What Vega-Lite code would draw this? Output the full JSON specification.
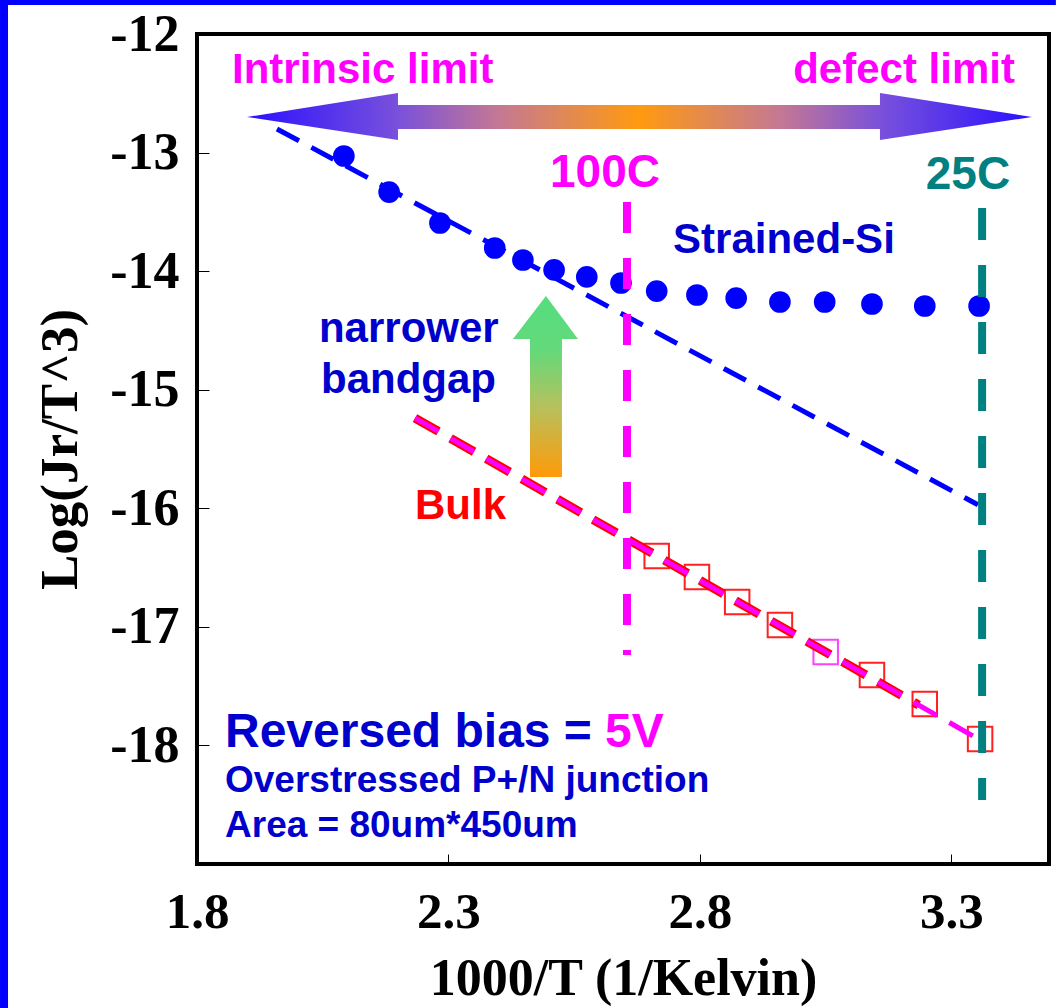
{
  "$schema": "https://vega.github.io/schema/vega-lite/v6.json",
  "width": 852,
  "height": 830,
  "autosize": {"type": "none"},
  "padding": {"left": 197, "top": 34, "right": 7, "bottom": 144},
  "background": "white",
  "config": {
    "view": {"stroke": "black", "strokeWidth": 4},
    "axis": {"domain": false, "grid": false, "tickColor": "black", "tickWidth": 1, "labelColor": "black", "titleColor": "black", "labelFont": "Liberation Serif", "labelFontWeight": "bold", "titleFont": "Liberation Serif", "titleFontWeight": "bold", "labelFlush": false, "labelOverlap": false}
  },
  "layer": [
    {
      "data": {"values": [
        {"x": 1.8994, "top": -12.700, "bot": -12.700},
        {"x": 2.1996, "top": -12.498, "bot": -12.894},
        {"x": 2.1996, "top": -12.599, "bot": -12.801},
        {"x": 3.1579, "top": -12.599, "bot": -12.801},
        {"x": 3.1579, "top": -12.498, "bot": -12.894},
        {"x": 3.4600, "top": -12.700, "bot": -12.700}
      ]},
      "mark": {"type": "area", "color": {"gradient": "linear", "x1": 0, "y1": 0, "x2": 1, "y2": 0, "stops": [
        {"offset": 0, "color": "#2A10FF"},
        {"offset": 0.19, "color": "#7850DC"},
        {"offset": 0.32, "color": "#C47894"},
        {"offset": 0.5, "color": "#FF9A10"},
        {"offset": 0.68, "color": "#C47894"},
        {"offset": 0.81, "color": "#7850DC"},
        {"offset": 1, "color": "#2A10FF"}
      ]}},
      "encoding": {
        "x": {"field": "x", "type": "quantitative", "scale": {"domain": [1.8, 3.494], "nice": false, "zero": false},
          "axis": {"values": [1.8, 2.3, 2.8, 3.3], "format": ".1f", "tickSize": -10, "labelFontSize": 51, "labelPadding": 33, "titleFontSize": 52, "titlePadding": 16},
          "title": "1000/T (1/Kelvin)"},
        "y": {"field": "top", "type": "quantitative", "scale": {"domain": [-19, -12], "nice": false, "zero": false},
          "axis": {"values": [-12, -13, -14, -15, -16, -17, -18], "labelExpr": "'-' + abs(datum.value)", "tickSize": -12, "labelFontSize": 52, "labelPadding": 30, "titleFontSize": 53, "titlePadding": 22},
          "title": "Log(Jr/T^3)"},
        "y2": {"field": "bot"}
      }
    },
    {
      "data": {"values": [
        {"y": -14.210, "left": 2.4938, "right": 2.4938},
        {"y": -14.572, "left": 2.4282, "right": 2.5575},
        {"y": -14.572, "left": 2.4620, "right": 2.5256},
        {"y": -15.736, "left": 2.4620, "right": 2.5256}
      ]},
      "mark": {"type": "area", "orient": "horizontal", "color": {"gradient": "linear", "x1": 0, "y1": 0, "x2": 0, "y2": 1, "stops": [
        {"offset": 0, "color": "#55DD80"},
        {"offset": 0.3, "color": "#64D97A"},
        {"offset": 0.62, "color": "#B8C05C"},
        {"offset": 1, "color": "#FF9A08"}
      ]}},
      "encoding": {
        "y": {"field": "y", "type": "quantitative"},
        "x": {"field": "left", "type": "quantitative"},
        "x2": {"field": "right"}
      }
    },
    {
      "data": {"values": [
        {"x": 1.959, "y": -12.801},
        {"x": 3.3527, "y": -15.970}
      ]},
      "mark": {"type": "line", "color": "#0000FF", "strokeWidth": 5, "strokeDash": [25, 14], "strokeCap": "butt"},
      "encoding": {
        "x": {"field": "x", "type": "quantitative"},
        "y": {"field": "y", "type": "quantitative"}
      }
    },
    {
      "data": {"values": [
        {"x": 2.092, "y": -13.029},
        {"x": 2.182, "y": -13.333},
        {"x": 2.283, "y": -13.594},
        {"x": 2.392, "y": -13.805},
        {"x": 2.448, "y": -13.906},
        {"x": 2.510, "y": -13.990},
        {"x": 2.575, "y": -14.049},
        {"x": 2.643, "y": -14.100},
        {"x": 2.714, "y": -14.168},
        {"x": 2.794, "y": -14.201},
        {"x": 2.872, "y": -14.227},
        {"x": 2.959, "y": -14.260},
        {"x": 3.048, "y": -14.260},
        {"x": 3.142, "y": -14.277},
        {"x": 3.247, "y": -14.294},
        {"x": 3.355, "y": -14.294}
      ]},
      "mark": {"type": "circle", "color": "#0000FF", "size": 470, "opacity": 1},
      "encoding": {
        "x": {"field": "x", "type": "quantitative"},
        "y": {"field": "y", "type": "quantitative"}
      }
    },
    {
      "data": {"values": [
        {"x": 2.714, "y": -16.403, "run": "A"},
        {"x": 2.794, "y": -16.580, "run": "A"},
        {"x": 2.874, "y": -16.790, "run": "A"},
        {"x": 2.959, "y": -16.984, "run": "A"},
        {"x": 3.050, "y": -17.212, "run": "B"},
        {"x": 3.142, "y": -17.406, "run": "A"},
        {"x": 3.247, "y": -17.651, "run": "A"},
        {"x": 3.357, "y": -17.946, "run": "A"}
      ]},
      "mark": {"type": "square", "filled": false, "size": 600, "strokeWidth": 2, "opacity": 1},
      "encoding": {
        "x": {"field": "x", "type": "quantitative"},
        "y": {"field": "y", "type": "quantitative"},
        "stroke": {"field": "run", "type": "nominal", "scale": {"domain": ["A", "B"], "range": ["#FF2020", "#FF40FF"]}, "legend": null}
      }
    },
    {
      "data": {"values": [
        {"x": 2.2334, "y": -15.239},
        {"x": 3.235, "y": -17.660}
      ]},
      "mark": {"type": "line", "color": "#FF0000", "strokeWidth": 9, "strokeDash": [27, 14], "strokeCap": "butt"},
      "encoding": {
        "x": {"field": "x", "type": "quantitative"},
        "y": {"field": "y", "type": "quantitative"}
      }
    },
    {
      "data": {"values": [
        {"x": 2.2334, "y": -15.239},
        {"x": 3.3567, "y": -17.954}
      ]},
      "mark": {"type": "line", "color": "#FF00FF", "strokeWidth": 5, "strokeDash": [27, 14], "strokeCap": "butt"},
      "encoding": {
        "x": {"field": "x", "type": "quantitative"},
        "y": {"field": "y", "type": "quantitative"}
      }
    },
    {
      "data": {"values": [{"x": 2.6549, "y": -13.417, "y2": -17.237}]},
      "mark": {"type": "rule", "color": "#FF00FF", "strokeWidth": 8, "strokeDash": [31, 25], "strokeCap": "butt"},
      "encoding": {
        "x": {"field": "x", "type": "quantitative"},
        "y": {"field": "y", "type": "quantitative"},
        "y2": {"field": "y2"}
      }
    },
    {
      "data": {"values": [{"x": 3.361, "y": -13.468, "y2": -18.460}]},
      "mark": {"type": "rule", "color": "#008080", "strokeWidth": 8, "strokeDash": [32, 25], "strokeCap": "butt"},
      "encoding": {
        "x": {"field": "x", "type": "quantitative"},
        "y": {"field": "y", "type": "quantitative"},
        "y2": {"field": "y2"}
      }
    },
    {
      "data": {"values": [{"x": 1.8696, "y": -12.413, "t": "Intrinsic limit"}]},
      "mark": {"type": "text", "font": "Liberation Sans", "fontWeight": "bold", "fontSize": 42, "color": "#FF00FF", "align": "left", "baseline": "alphabetic"},
      "encoding": {"x": {"field": "x", "type": "quantitative"}, "y": {"field": "y", "type": "quantitative"}, "text": {"field": "t"}}
    },
    {
      "data": {"values": [{"x": 3.4262, "y": -12.413, "t": "defect limit"}]},
      "mark": {"type": "text", "font": "Liberation Sans", "fontWeight": "bold", "fontSize": 42, "color": "#FF00FF", "align": "right", "baseline": "alphabetic"},
      "encoding": {"x": {"field": "x", "type": "quantitative"}, "y": {"field": "y", "type": "quantitative"}, "text": {"field": "t"}}
    },
    {
      "data": {"values": [{"x": 2.6111, "y": -13.290, "t": "100C"}]},
      "mark": {"type": "text", "font": "Liberation Sans", "fontWeight": "bold", "fontSize": 46, "color": "#FF00FF", "align": "center", "baseline": "alphabetic"},
      "encoding": {"x": {"field": "x", "type": "quantitative"}, "y": {"field": "y", "type": "quantitative"}, "text": {"field": "t"}}
    },
    {
      "data": {"values": [{"x": 3.3328, "y": -13.307, "t": "25C"}]},
      "mark": {"type": "text", "font": "Liberation Sans", "fontWeight": "bold", "fontSize": 46, "color": "#008080", "align": "center", "baseline": "alphabetic"},
      "encoding": {"x": {"field": "x", "type": "quantitative"}, "y": {"field": "y", "type": "quantitative"}, "text": {"field": "t"}}
    },
    {
      "data": {"values": [{"x": 2.967, "y": -13.847, "t": "Strained-Si"}]},
      "mark": {"type": "text", "font": "Liberation Sans", "fontWeight": "bold", "fontSize": 42, "color": "#0000CC", "align": "center", "baseline": "alphabetic"},
      "encoding": {"x": {"field": "x", "type": "quantitative"}, "y": {"field": "y", "type": "quantitative"}, "text": {"field": "t"}}
    },
    {
      "data": {"values": [
        {"x": 2.0425, "y": -14.598, "t": "narrower"},
        {"x": 2.0465, "y": -15.028, "t": "bandgap"}
      ]},
      "mark": {"type": "text", "font": "Liberation Sans", "fontWeight": "bold", "fontSize": 42, "color": "#0000CC", "align": "left", "baseline": "alphabetic"},
      "encoding": {"x": {"field": "x", "type": "quantitative"}, "y": {"field": "y", "type": "quantitative"}, "text": {"field": "t"}}
    },
    {
      "data": {"values": [{"x": 2.2334, "y": -16.090, "t": "Bulk"}]},
      "mark": {"type": "text", "font": "Liberation Sans", "fontWeight": "bold", "fontSize": 42, "color": "#FF0000", "align": "left", "baseline": "alphabetic"},
      "encoding": {"x": {"field": "x", "type": "quantitative"}, "y": {"field": "y", "type": "quantitative"}, "text": {"field": "t"}}
    },
    {
      "data": {"values": [{"x": 1.8557, "y": -18.013, "t": "Reversed bias ="}]},
      "mark": {"type": "text", "font": "Liberation Sans", "fontWeight": "bold", "fontSize": 48, "color": "#0000CC", "align": "left", "baseline": "alphabetic"},
      "encoding": {"x": {"field": "x", "type": "quantitative"}, "y": {"field": "y", "type": "quantitative"}, "text": {"field": "t"}}
    },
    {
      "data": {"values": [{"x": 2.6111, "y": -18.013, "t": "5V"}]},
      "mark": {"type": "text", "font": "Liberation Sans", "fontWeight": "bold", "fontSize": 48, "color": "#FF00FF", "align": "left", "baseline": "alphabetic"},
      "encoding": {"x": {"field": "x", "type": "quantitative"}, "y": {"field": "y", "type": "quantitative"}, "text": {"field": "t"}}
    },
    {
      "data": {"values": [
        {"x": 1.8557, "y": -18.393, "t": "Overstressed P+/N junction"},
        {"x": 1.8557, "y": -18.772, "t": "Area = 80um*450um"}
      ]},
      "mark": {"type": "text", "font": "Liberation Sans", "fontWeight": "bold", "fontSize": 37, "color": "#0000CC", "align": "left", "baseline": "alphabetic"},
      "encoding": {"x": {"field": "x", "type": "quantitative"}, "y": {"field": "y", "type": "quantitative"}, "text": {"field": "t"}}
    },
    {
      "data": {"values": [{"x": 1.4083, "x2": 3.5077, "y": -11.734}]},
      "mark": {"type": "rule", "color": "#0000FF", "strokeWidth": 5, "clip": false},
      "encoding": {
        "x": {"field": "x", "type": "quantitative"},
        "x2": {"field": "x2"},
        "y": {"field": "y", "type": "quantitative"}
      }
    },
    {
      "data": {"values": [{"x": 1.4163, "y": -11.713, "y2": -20.215}]},
      "mark": {"type": "rule", "color": "#0000FF", "strokeWidth": 8, "clip": false},
      "encoding": {
        "x": {"field": "x", "type": "quantitative"},
        "y": {"field": "y", "type": "quantitative"},
        "y2": {"field": "y2"}
      }
    }
  ]
}
